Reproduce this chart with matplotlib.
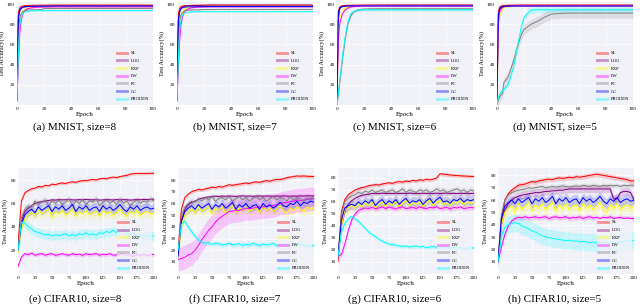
import matplotlib
matplotlib.use('Agg')
import matplotlib.pyplot as plt
from matplotlib.lines import Line2D

plt.rcParams['font.family'] = ['Liberation Serif', 'DejaVu Serif']

methods = ['SL', 'LOG', 'EXP', 'LW', 'PC', 'CC', 'PRODEN']
colors = ['#FF0000', '#800080', '#FFFF00', '#FF00FF', '#808080', '#0000FF', '#00FFFF']

mnist_epochs = [0, 1, 2, 3, 4, 5, 6, 8, 10, 12, 15, 18, 20, 25, 30, 35, 40, 50, 100]
cifar_epochs = [0, 5, 10, 15, 20, 25, 30, 35, 40, 45, 50, 55, 60, 65, 70, 75, 80, 85, 90, 95,
                100, 105, 110, 115, 120, 125, 130, 135, 140, 145, 150, 155, 160, 165, 170, 175,
                180, 185, 190, 195, 200]

# ---------------- MNIST, size=8 ----------------
a_SL = [10, 92, 96, 97.5, 98, 98.3, 98.5, 98.6, 98.7, 98.8, 98.8, 98.9, 98.9, 99, 99, 99, 99, 99, 99]
a_LOG = [5, 85, 93, 95.5, 96.5, 97, 97.3, 97.5, 97.6, 97.7, 97.8, 97.9, 97.9, 98, 98, 98, 98, 98, 98]
a_EXP = [5, 60, 82, 89, 92, 94, 95, 96, 96.5, 96.8, 97, 97.1, 97.2, 97.3, 97.4, 97.4, 97.4, 97.4, 97.4]
a_LW = [5, 40, 70, 84, 89, 92, 94, 95.5, 96, 96.5, 96.8, 96.9, 97, 97.1, 97.2, 97.2, 97.2, 97.2, 97.2]
a_PC = [5, 70, 86, 90, 92, 93, 93.5, 94, 94.2, 94.3, 94.4, 94.5, 95.5, 95.5, 95.6, 95.6, 95.6, 95.6, 95.6]
a_CC = [5, 88, 94, 96, 96.8, 97.2, 97.4, 97.6, 97.7, 97.8, 97.8, 97.9, 97.9, 97.9, 98, 98, 98, 98, 98]
a_PRODEN = [3, 50, 78, 87, 90, 91.5, 92.3, 92.8, 93, 93.2, 93.3, 93.4, 93.4, 93.5, 93.5, 93.5, 93.5, 93.5, 93.5]
band_a = [0.3, 0.3, 0.5, 0.5, 0.4, 0.3, 0.4]

# ---------------- MNIST, size=7 ----------------
b_SL = [10, 90, 96, 97.5, 98, 98.3, 98.5, 98.6, 98.7, 98.8, 98.8, 98.9, 98.9, 99, 99, 99, 99, 99, 99]
b_LOG = [5, 82, 93, 96, 97, 97.5, 98, 98.2, 98.4, 98.5, 98.6, 98.7, 98.7, 98.8, 98.8, 98.8, 98.8, 98.8, 98.8]
b_EXP = [5, 55, 80, 88, 92, 94, 95.5, 96.5, 97, 97.3, 97.5, 97.6, 97.7, 97.8, 97.8, 97.8, 97.8, 97.8, 97.8]
b_LW = [5, 35, 65, 80, 87, 91, 93.5, 95, 96, 96.5, 97, 97.1, 97.2, 97.3, 97.3, 97.3, 97.3, 97.3, 97.3]
b_PC = [5, 65, 84, 89, 91.5, 92.5, 93.2, 93.8, 94, 94.2, 94.3, 94.4, 94.5, 94.6, 94.7, 94.7, 94.7, 94.7, 94.7]
b_CC = [5, 85, 93, 95.5, 96.3, 96.8, 97, 97.2, 97.3, 97.3, 97.4, 97.4, 97.4, 97.5, 97.5, 97.5, 97.5, 97.5, 97.5]
b_PRODEN = [3, 45, 75, 85, 89, 90.5, 91.3, 91.8, 92, 92.2, 92.3, 92.4, 92.4, 92.4, 92.4, 92.4, 92.4, 92.4, 92.4]
band_b = [0.3, 0.3, 0.5, 0.5, 0.4, 0.3, 0.4]

# ---------------- MNIST, size=6 ----------------
c_SL = [10, 93, 97, 98, 98.3, 98.5, 98.6, 98.7, 98.8, 98.9, 98.9, 99, 99, 99, 99, 99, 99, 99, 99]
c_LOG = [5, 85, 95, 97, 97.5, 97.8, 98, 98.2, 98.4, 98.5, 98.6, 98.6, 98.7, 98.7, 98.8, 98.8, 98.8, 98.8, 98.8]
c_EXP = [5, 75, 85, 90, 93, 95, 96, 97, 97.5, 97.8, 98, 98.1, 98.2, 98.3, 98.3, 98.3, 98.3, 98.3, 98.3]
c_LW = [5, 65, 80, 86, 90, 92.5, 94, 96, 97, 97.5, 97.8, 97.9, 98, 98, 98, 98, 98, 98, 98]
c_PC = [0, 10, 22, 33, 45, 55, 65, 80, 88, 92, 94, 94.8, 95, 95.2, 95.3, 95.3, 95.3, 95.3, 95.3]
c_CC = [5, 92, 96, 97, 97.5, 97.7, 97.8, 98, 98, 98.1, 98.1, 98.2, 98.2, 98.2, 98.2, 98.2, 98.2, 98.2, 98.2]
c_PRODEN = [0, 12, 25, 35, 48, 58, 67, 82, 90, 92.5, 94, 94.2, 94.3, 94.3, 94.3, 94.3, 94.3, 94.3, 94.3]
band_c = [0.3, 0.3, 0.5, 0.5, 1.5, 0.3, 1.5]

# ---------------- MNIST, size=5 ----------------
d_SL = [10, 93, 97, 98, 98.4, 98.6, 98.7, 98.8, 98.9, 98.9, 99, 99, 99, 99, 99, 99, 99, 99, 99]
d_LOG = [5, 85, 95, 97, 97.8, 98, 98.2, 98.4, 98.5, 98.6, 98.6, 98.7, 98.7, 98.7, 98.7, 98.7, 98.7, 98.7, 98.7]
d_EXP = [5, 70, 88, 93, 95, 96, 96.8, 97.3, 97.6, 97.8, 97.9, 98, 98, 98, 98, 98, 98, 98, 98]
d_LW = [5, 80, 92, 95, 96.5, 97, 97.4, 97.7, 97.9, 98, 98, 98.1, 98.1, 98.1, 98.1, 98.1, 98.1, 98.1, 98.1]
d_PC = [0, 5, 8, 10, 11, 22, 24, 27, 35, 43, 58, 70, 75, 80, 83, 87, 90, 91, 91]
d_CC = [5, 90, 95, 96.5, 97, 97.4, 97.6, 97.8, 97.9, 98, 98, 98, 98, 98, 98, 98, 98, 98, 98]
d_PRODEN = [0, 8, 11, 13, 14, 15, 17, 20, 28, 37, 58, 78, 87, 94, 94.3, 94.3, 94.3, 94.3, 94.3]
band_d = [0.3, 0.3, 0.5, 0.5, 5, 0.3, 3]

# ---------------- CIFAR10, size=8 ----------------
e_SL = [25, 62, 69, 71, 72.5, 73, 74.5, 74, 75.5, 75,
        76.5, 76, 77, 77.5, 77, 78, 78.5, 78, 79, 79.5,
        79.5, 80, 80.5, 80, 81, 81.5, 81, 82, 82.5, 82,
        83, 83.5, 84, 85, 85.5, 85.7, 85.7, 85.6, 85.7, 85.8,
        85.8]
e_LOG = [20, 45, 53, 56, 58, 60, 61, 61.5, 62, 62.5,
         63, 62.8, 63.2, 63, 63.1, 63.3, 63, 62.9, 63.2, 63,
         63.4, 63.1, 63, 63.3, 62.8, 63, 63.2, 63.1, 62.9, 63.3,
         63, 63.2, 63.1, 62.8, 63, 63.3, 63.1, 63.4, 63.2, 63.5,
         63.5]
e_EXP = [18, 38, 46, 50, 52, 49, 54, 51, 53, 55,
         48, 53, 51, 54, 50, 52, 55, 49, 53, 51,
         54, 50, 52, 53, 49, 54, 51, 53, 50, 52,
         55, 51, 49, 53, 51, 54, 50, 52, 53, 51,
         52]
e_LW = [6, 14, 17, 16, 17.5, 15.5, 16.5, 17, 15.5, 16.5,
        17, 15.5, 16, 17, 16, 15.5, 17, 16, 16.5, 15.5,
        17, 16, 16.5, 17, 15.5, 16.5, 16, 17, 15.5, 16,
        16.5, 17, 15.5, 16, 14.5, 16, 15.5, 16.5, 15, 16.5,
        16]
e_PC = [20, 48, 55, 58, 57, 62, 59, 61, 63, 58,
        62, 60, 63, 59, 61, 64, 58, 62, 60, 63,
        59, 62, 61, 64, 58, 61, 63, 60, 62, 59,
        64, 60, 62, 58, 61, 63, 60, 62, 61, 64,
        62]
e_CC = [20, 42, 50, 53, 55, 52, 57, 54, 56, 58,
        53, 57, 55, 58, 54, 56, 59, 53, 57, 55,
        58, 54, 56, 57, 53, 58, 55, 57, 54, 56,
        59, 55, 53, 57, 55, 58, 54, 56, 57, 55,
        56]
e_PRODEN = [20, 44, 43, 40, 38, 36, 35, 34, 33, 33.5,
            32, 33, 32.5, 33, 34, 32, 33.5, 32, 34, 33,
            35, 33, 34, 32.5, 35, 34, 36, 35, 37, 35,
            36, 37, 34, 33, 35, 32, 33, 31, 33, 32,
            32]
band_e = [1.2, 1.5, 4, 1.5, 3, 4, 4]

# ---------------- CIFAR10, size=7 ----------------
f_SL = [20, 55, 65, 68, 70, 71, 72, 71.5, 72.5, 73,
        74, 73.5, 74.5, 74, 75, 76, 75.5, 76, 76.5, 77,
        77.5, 77, 78, 78.5, 78, 79, 79.5, 79, 80, 80.5,
        80.5, 81, 82, 82.5, 83, 83.5, 83.3, 83.5, 83.2, 83.1,
        83]
f_LOG = [15, 45, 55, 59, 61, 62, 63.5, 64.5, 65, 65.5,
         66, 66.2, 66, 66.3, 66.1, 66.4, 66.2, 66, 66.3, 66.5,
         66.2, 66.4, 66.1, 66.3, 66.5, 66.2, 66.4, 66.3, 66.1, 66.4,
         66.2, 66.5, 66.3, 66.1, 66.4, 66.2, 66.5, 66.3, 66.6, 66.4,
         66.5]
f_EXP = [15, 40, 50, 53, 55, 52, 57, 53, 55, 57,
         51, 56, 54, 57, 52, 55, 58, 52, 56, 54,
         57, 53, 55, 56, 52, 57, 54, 56, 53, 55,
         58, 54, 52, 56, 54, 57, 55, 53, 57, 55,
         57]
f_LW = [12, 13, 14, 16, 17, 20, 24, 29, 33, 37,
        40, 44, 47, 49, 51, 53, 53.5, 54, 54, 55,
        56, 55.5, 56, 56.5, 57, 57, 57.5, 58, 58, 59,
        60, 60.5, 61, 61.5, 62, 63, 62.5, 63, 63.5, 64,
        64]
f_PC = [15, 50, 57, 60, 62, 61, 64, 62, 65, 63,
        66, 62, 64, 65, 63, 66, 62, 64, 66, 63,
        65, 62, 64, 66, 63, 65, 62, 64, 66, 63,
        65, 64, 62, 66, 63, 65, 64, 62, 65, 63,
        65]
f_CC = [15, 45, 53, 56, 58, 55, 59, 56, 58, 60,
        55, 59, 57, 60, 56, 58, 61, 55, 59, 57,
        60, 56, 58, 59, 55, 60, 57, 59, 56, 58,
        61, 58, 57, 60, 59, 62, 58, 61, 60, 62,
        61]
f_PRODEN = [20, 42, 45, 40, 36, 32, 29, 27, 26, 26.5,
            25, 26, 25.5, 24.5, 25, 26, 24.5, 25, 25.5, 24,
            25, 24.5, 26, 25, 24, 25.5, 24.5, 25, 26, 24,
            25, 24.5, 25.5, 24, 25, 24.5, 25.5, 24, 23.5, 24,
            24]
band_f = [1.5, 1.5, 4, 10, 2.5, 4, 2]

# ---------------- CIFAR10, size=6 ----------------
g_SL = [10, 52, 62, 66, 68, 70, 71, 72, 72.5, 73.5,
        74, 74.5, 74, 75, 75.5, 76, 75.5, 76.5, 77, 76.5,
        77.5, 77, 78, 77.5, 78.5, 78, 79, 78.5, 79, 80,
        83.5, 83.2, 82.8, 82.5, 82.2, 82, 81.8, 81.6, 81.5, 81.3,
        81.2]
g_LOG = [15, 40, 52, 58, 61, 63, 64.5, 65.5, 66, 66.5,
         67, 67.2, 67, 67.3, 67.1, 67.2, 67, 67.3, 67.1, 67.2,
         67, 67.4, 67.1, 67.2, 67, 67.3, 67.1, 67.2, 67, 67.3,
         67.1, 67.2, 67.4, 67.1, 67.2, 67, 67.3, 67.1, 67.2, 67,
         67.2]
g_EXP = [15, 40, 53, 55, 57, 55, 58, 56, 59, 57,
         60, 55, 58, 60, 56, 59, 57, 61, 56, 59,
         61, 57, 59, 58, 60, 56, 59, 62, 57, 60,
         61, 58, 59, 57, 60, 59, 61, 58, 60, 59,
         60]
g_LW = [15, 16, 25, 36, 45, 50, 53, 54, 55, 54.5,
        55.5, 54.5, 55, 56, 54.5, 55.5, 55, 54, 55.5, 56,
        54.5, 55, 55.5, 54.5, 56, 55, 54.5, 55.5, 55, 56,
        54.5, 55, 55.5, 54, 55.5, 55, 56, 54.5, 55, 55.5,
        55]
g_PC = [15, 50, 60, 63, 65, 66, 68, 67, 69, 68,
        70, 68, 69, 70, 68, 69, 70, 68, 69, 71,
        68, 70, 69, 68, 70, 69, 70, 68, 69, 71,
        69, 70, 68, 69, 70, 71, 69, 70, 68, 70,
        69]
g_CC = [15, 45, 55, 57, 58, 57, 60, 58, 61, 59,
        62, 57, 60, 62, 58, 61, 59, 62, 58, 61,
        63, 59, 61, 60, 62, 58, 61, 63, 59, 62,
        64, 60, 61, 59, 62, 61, 63, 60, 62, 61,
        62]
g_PRODEN = [15, 35, 42, 46, 48, 46, 44, 41, 38, 35,
            33, 31, 29, 27.5, 26, 25, 24.5, 24, 23.5, 23,
            23.5, 22.5, 23, 23.5, 22.5, 23, 22, 22.5, 23, 22,
            21.5, 22, 22.5, 21.5, 22, 21.5, 22, 21, 21.5, 22,
            21.5]
band_g = [1.5, 1.5, 4, 2, 2.5, 4, 1.5]

# ---------------- CIFAR10, size=5 ----------------
h_SL = [10, 45, 60, 65, 68, 70, 72, 72.5, 73, 74,
        75, 74.5, 75.5, 76, 76.5, 77, 76.5, 77.5, 78, 77.5,
        78, 78.5, 78, 79, 78.5, 79, 79.5, 80, 80.5, 81,
        80.5, 80, 79.5, 79, 78.5, 78, 77.5, 77, 76.5, 75.5,
        75.5]
h_LOG = [10, 40, 52, 57, 60, 62, 63, 64, 64.5, 65,
         65.5, 66, 66, 66.5, 67, 67, 67.5, 67.5, 68, 68,
         68.5, 69, 69, 69, 69, 69, 69, 69, 69, 69,
         69, 69, 69, 69, 61, 61, 66, 67, 67, 66,
         60]
h_EXP = [10, 40, 50, 53, 55, 50, 57, 52, 55, 58,
         51, 56, 53, 57, 52, 55, 58, 51, 56, 53,
         57, 52, 55, 56, 51, 57, 53, 56, 52, 55,
         58, 53, 50, 56, 53, 57, 52, 55, 56, 53,
         56]
h_LW = [10, 22, 32, 39, 43, 45, 46, 45.5, 46.5, 45.5,
        46, 46.5, 45.5, 46, 46.5, 45, 46, 46.5, 45.5, 46,
        46.5, 45, 46, 45.5, 46.5, 45, 46, 46.5, 45.5, 46,
        45, 46, 45.5, 46.5, 45, 45.5, 46, 45, 45.5, 45,
        45]
h_PC = [10, 48, 60, 64, 66, 67, 68, 68.5, 69, 70,
        69.5, 70, 70.5, 71, 70, 70.5, 71, 70.5, 71, 71.5,
        71, 70.5, 71, 71.5, 71, 72, 71.5, 71, 72, 71.5,
        71, 72, 71.5, 72, 71.5, 72, 71, 72, 71.5, 72,
        72]
h_CC = [10, 45, 55, 58, 60, 57, 61, 58, 60, 62,
        57, 61, 59, 62, 58, 60, 63, 57, 61, 59,
        62, 58, 60, 61, 57, 62, 59, 61, 58, 60,
        63, 59, 57, 61, 59, 62, 58, 60, 61, 59,
        60]
h_PRODEN = [10, 30, 38, 40, 41, 41.5, 41, 39, 38, 36.5,
            35, 34, 32.5, 31, 30, 29.5, 29, 28.5, 28, 27.5,
            27, 27.5, 26.5, 27, 26, 26.5, 26, 25.5, 26, 25,
            25.5, 25, 25.5, 25, 25.5, 25, 26, 26.5, 27, 27.5,
            27]
band_h = [2, 3, 5, 2, 2, 4, 7]

captions = ['(a) MNIST, size=8', '(b) MNIST, size=7', '(c) MNIST, size=6', '(d) MNIST, size=5',
            '(e) CIFAR10, size=8', '(f) CIFAR10, size=7', '(g) CIFAR10, size=6', '(h) CIFAR10, size=5']

panels = [
    (mnist_epochs, [a_SL, a_LOG, a_EXP, a_LW, a_PC, a_CC, a_PRODEN], band_a),
    (mnist_epochs, [b_SL, b_LOG, b_EXP, b_LW, b_PC, b_CC, b_PRODEN], band_b),
    (mnist_epochs, [c_SL, c_LOG, c_EXP, c_LW, c_PC, c_CC, c_PRODEN], band_c),
    (mnist_epochs, [d_SL, d_LOG, d_EXP, d_LW, d_PC, d_CC, d_PRODEN], band_d),
    (cifar_epochs, [e_SL, e_LOG, e_EXP, e_LW, e_PC, e_CC, e_PRODEN], band_e),
    (cifar_epochs, [f_SL, f_LOG, f_EXP, f_LW, f_PC, f_CC, f_PRODEN], band_f),
    (cifar_epochs, [g_SL, g_LOG, g_EXP, g_LW, g_PC, g_CC, g_PRODEN], band_g),
    (cifar_epochs, [h_SL, h_LOG, h_EXP, h_LW, h_PC, h_CC, h_PRODEN], band_h),
]

ylims = [(0, 102)] * 4 + [(-0.5, 90.3), (-0.3, 90.3), (0, 88.3), (0, 86)]
yticks = [[20, 40, 60, 80, 100]] * 4 + [[20, 40, 60, 80], list(range(10, 90, 10)),
                                         list(range(10, 90, 10)), list(range(10, 90, 10))]

W, H = 640.0, 307.0
fig = plt.figure(figsize=(6.4, 3.07), dpi=100)
bg = '#F1F1F8'

for i, (xs, series, bands) in enumerate(panels):
    col = i % 4
    row = i // 4
    if row == 0:
        left, top, bottom = 17 + 160 * col, 2, 105
    else:
        left, top, bottom = 18 + 160 * col, 168, 274
    ax = fig.add_axes([left / W, 1 - bottom / H, 136 / W, (bottom - top) / H])
    ax.set_facecolor(bg)
    ax.grid(True, color='white', lw=0.5)
    ax.set_axisbelow(True)
    for s in ax.spines.values():
        s.set_visible(False)
    for ys, c, b in zip(series, colors, bands):
        lo = [v - b for v in ys]
        hi = [v + b for v in ys]
        ax.fill_between(xs, lo, hi, color=c, alpha=0.18, lw=0)
        ax.plot(xs, ys, color=c, lw=0.7)
    if row == 0:
        ax.set_xlim(0, 100)
        ax.set_xticks([0, 20, 40, 60, 80, 100])
    else:
        ax.set_xlim(0, 200)
        ax.set_xticks(list(range(0, 201, 25)))
    ax.set_ylim(*ylims[i])
    ax.set_yticks(yticks[i])
    ax.tick_params(length=0, labelsize=3.8, pad=1.5)
    ax.set_xlabel('Epoch', fontsize=5, labelpad=1)
    ax.set_ylabel('Test Accuracy(%)', fontsize=4.5, labelpad=1.5)
    handles = [Line2D([0], [0], color=c, lw=2, alpha=0.4) for c in colors]
    ax.legend(handles, methods, loc='lower right', fontsize=3.3, frameon=True,
              facecolor=bg, edgecolor='none', framealpha=0.8, handlelength=2.2,
              labelspacing=0.75, borderpad=0.3, handletextpad=0.8)
    cy = 127 if row == 0 else 299
    fig.text((75 + 160 * col) / W, 1 - cy / H, captions[i], ha='center', va='center',
             fontsize=8)

fig.savefig('out.png', dpi=100)
